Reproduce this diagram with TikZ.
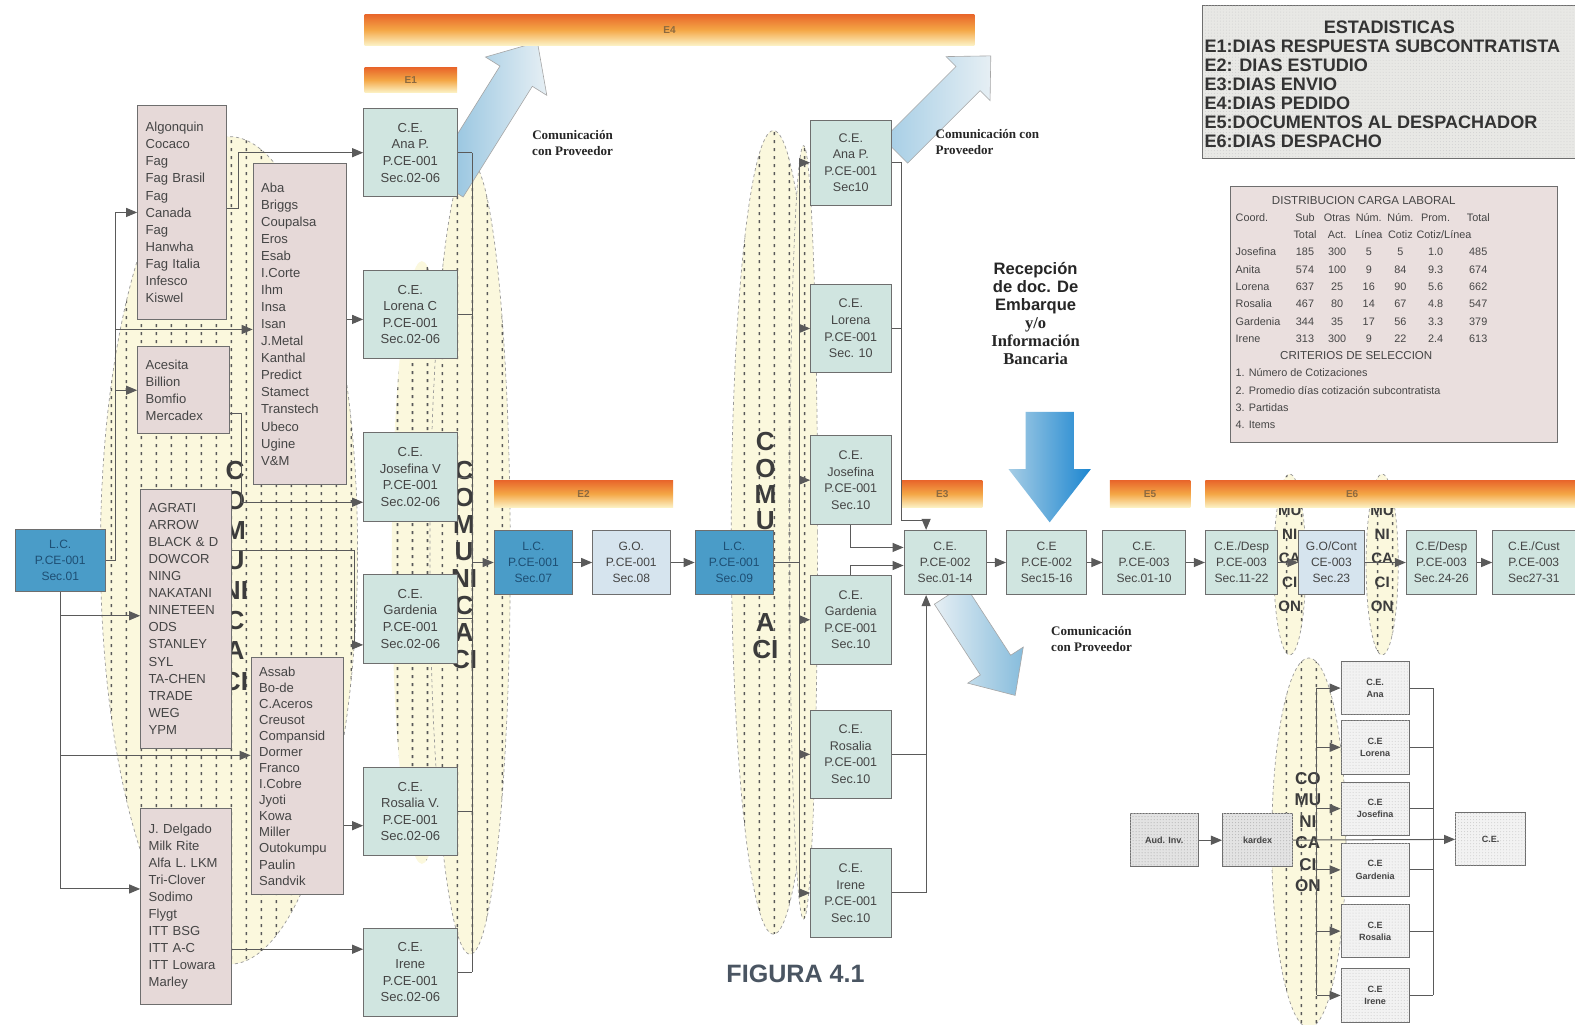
\documentclass[tikz,border=0pt]{standalone}
\usepackage{fontspec}
\setmainfont{Liberation Sans}
\newfontfamily\serifbf{Liberation Serif}
\usetikzlibrary{arrows.meta,patterns}

\definecolor{cefill}{HTML}{D0E5E0}
\definecolor{listfill}{HTML}{E6D9D8}
\definecolor{lcblue}{HTML}{4A9CC8}
\definecolor{lctext}{HTML}{1E4F74}
\definecolor{gofill}{HTML}{D6E4EE}
\definecolor{boxline}{HTML}{6E6E6E}
\definecolor{txt}{HTML}{454545}
\definecolor{lineC}{HTML}{5A5A5A}
\definecolor{ellfill}{HTML}{FBF8DD}
\definecolor{bnTop}{HTML}{E8652A}
\definecolor{bnMid}{HTML}{F4A645}
\definecolor{bnBot}{HTML}{FCF1C4}
\definecolor{bnText}{HTML}{8C6A40}
\definecolor{letC}{HTML}{3C3C3C}
\definecolor{arLight}{HTML}{E6EFF4}
\definecolor{arBlue}{HTML}{86BCDC}
\definecolor{recTop}{HTML}{A6CDE5}
\definecolor{recBot}{HTML}{1C86D0}
\definecolor{statfill}{HTML}{E8E8E5}
\definecolor{distfill}{HTML}{EADFDE}
\definecolor{figC}{HTML}{4A5562}

\pgfdeclarepatternformonly{vdash}{\pgfqpoint{0pt}{0pt}}{\pgfqpoint{15pt}{8pt}}{\pgfqpoint{15pt}{8pt}}{\pgfpathrectangle{\pgfqpoint{6pt}{2pt}}{\pgfqpoint{1.6pt}{3.4pt}}\pgfusepath{fill}}

\pgfdeclarelayer{bgb}
\pgfdeclarelayer{bg}
\pgfsetlayers{bgb,bg,main}

\newcommand\dcrow[7]{\makebox[53pt][l]{#1}\makebox[32pt][c]{#2}\makebox[32pt][c]{#3}\makebox[31pt][c]{#4}\makebox[32pt][c]{#5}\makebox[38pt][c]{#6}\makebox[47pt][c]{#7}}

\tikzset{
  box/.style={draw=boxline, line width=0.9pt, inner sep=2pt, align=center, text=txt},
  cebox/.style={box, fill=cefill, minimum width=93pt, minimum height=88pt, font=\fontsize{13}{16.5}\selectfont},
  cetwo/.style={box, fill=cefill, minimum width=80pt, minimum height=88pt, font=\fontsize{12.5}{16.5}\selectfont},
  chain/.style={box, fill=cefill, minimum height=64pt, font=\fontsize{12}{16}\selectfont},
  lcbox/.style={chain, fill=lcblue, text=lctext},
  gobox/.style={chain, fill=gofill},
  listbox/.style={draw=boxline, line width=0.9pt, fill=listfill, align=left, inner xsep=8pt, inner ysep=2pt, text=txt, font=\fontsize{13}{17}\selectfont},
  banner/.style={top color=bnTop, bottom color=bnBot, middle color=bnMid, inner sep=0pt, font=\fontsize{10}{10}\selectfont\bfseries, text=bnText},
  conn/.style={draw=lineC, line width=1pt},
  arr/.style={conn, -{Triangle[length=11pt,width=9pt]}},
  ellipsefill/.style={draw=gray!80, dashed, line width=0.7pt, fill=ellfill, postaction={pattern=vdash, pattern color=gray!70!black}},
  ellipseplain/.style={fill=ellfill, postaction={pattern=vdash, pattern color=gray!70!black}},
  bigletter/.style={font=\fontsize{26}{26}\selectfont\bfseries, text=letC, inner sep=0pt},
  midletter/.style={font=\fontsize{15}{15}\selectfont\bfseries, text=letC, inner sep=0pt},
  brbox/.style={draw=boxline, line width=0.8pt, fill=gray!10, postaction={pattern=dots, pattern color=gray!40}, minimum width=68pt, minimum height=53pt, align=center, font=\fontsize{9}{12}\selectfont\bfseries, text=txt},
  comtext/.style={font=\serifbf\bfseries\fontsize{13}{16}\selectfont, text=black!85},
}

\begin{document}
\begin{tikzpicture}[x=1pt,y=-1pt]
\path[use as bounding box] (0,0) rectangle (1568,1020);

% ---------------- main layer: nodes ----------------
\node[lcbox, minimum width=90pt, minimum height=62pt] (lc0) at (60,558) {L.C.\\P.CE-001\\Sec.01};

\node[listbox, text width=72pt, minimum height=213pt] (lA) at (181,211.5) {Algonquin\\Cocaco\\Fag\\Fag Brasil\\Fag\\Canada\\Fag\\Hanwha\\Fag Italia\\Infesco\\Kiswel};
\node[listbox, text width=75pt, minimum height=87pt] (lB) at (182.5,388.5) {Acesita\\Billion\\Bomfio\\Mercadex};
\node[listbox, text width=74pt, minimum height=258pt] (lC) at (185,616) {AGRATI\\ARROW\\BLACK \& D\\DOWCOR\\NING\\NAKATANI\\NINETEEN\\ODS\\STANLEY\\SYL\\TA-CHEN\\TRADE\\WEG\\YPM};
\node[listbox, text width=74pt, minimum height=195pt] (lD) at (185,902.5) {J. Delgado\\Milk Rite\\Alfa L. LKM\\Tri-Clover\\Sodimo\\Flygt\\ITT BSG\\ITT A-C\\ITT Lowara\\Marley};
\node[listbox, text width=77pt, minimum height=320pt] (lE) at (298.5,322.5) {Aba\\Briggs\\Coupalsa\\Eros\\Esab\\I.Corte\\Ihm\\Insa\\Isan\\J.Metal\\Kanthal\\Predict\\Stamect\\Transtech\\Ubeco\\Ugine\\V\&M};
\node[listbox, text width=76pt, minimum height=235pt, font=\fontsize{13}{16}\selectfont] (lF) at (296,772.5) {Assab\\Bo-de\\C.Aceros\\Creusot\\Compansid\\Dormer\\Franco\\I.Cobre\\Jyoti\\Kowa\\Miller\\Outokumpu\\Paulin\\Sandvik};

\node[cebox] (ce1a) at (408.5,152) {C.E.\\Ana P.\\P.CE-001\\Sec.02-06};
\node[cebox] (ce1b) at (408.5,313) {C.E.\\Lorena C\\P.CE-001\\Sec.02-06};
\node[cebox] (ce1c) at (408.5,475) {C.E.\\Josefina V\\P.CE-001\\Sec.02-06};
\node[cebox] (ce1d) at (408.5,616) {C.E.\\Gardenia\\P.CE-001\\Sec.02-06};
\node[cebox] (ce1e) at (408.5,808) {C.E.\\Rosalia V.\\P.CE-001\\Sec.02-06};
\node[cebox] (ce1f) at (408.5,968) {C.E.\\Irene\\P.CE-001\\Sec.02-06};

\node[lcbox, minimum width=78pt] (lc1) at (531,560) {L.C.\\P.CE-001\\Sec.07};
\node[gobox, minimum width=77pt] (go1) at (628.5,560) {G.O.\\P.CE-001\\Sec.08};
\node[lcbox, minimum width=78pt] (lc2) at (731,560) {L.C.\\P.CE-001\\Sec.09};

\node[cetwo, minimum height=85pt] (c2a) at (847,162) {C.E.\\Ana P.\\P.CE-001\\Sec10};
\node[cetwo] (c2b) at (847,327) {C.E.\\Lorena\\P.CE-001\\Sec. 10};
\node[cetwo] (c2c) at (847,478) {C.E.\\Josefina\\P.CE-001\\Sec.10};
\node[cetwo] (c2d) at (847,617) {C.E.\\Gardenia\\P.CE-001\\Sec.10};
\node[cetwo] (c2e) at (847,751) {C.E.\\Rosalia\\P.CE-001\\Sec.10};
\node[cetwo] (c2f) at (847,889) {C.E.\\Irene\\P.CE-001\\Sec.10};

\node[chain, minimum width=82pt] (ce2) at (941,560) {C.E.\\P.CE-002\\Sec.01-14};
\node[chain, minimum width=80pt] (ce3) at (1042,560) {C.E\\P.CE-002\\Sec15-16};
\node[chain, minimum width=82pt] (ce4) at (1139,560) {C.E.\\P.CE-003\\Sec.01-10};
\node[chain, minimum width=72pt] (ce5) at (1236,560) {C.E./Desp\\P.CE-003\\Sec.11-22};
\node[gobox, minimum width=65pt] (go2) at (1325.5,560) {G.O/Cont\\CE-003\\Sec.23};
\node[chain, minimum width=70pt] (ce6) at (1435,560) {C.E/Desp\\P.CE-003\\Sec.24-26};
\node[chain, minimum width=82pt] (ce7) at (1527,560) {C.E./Cust\\P.CE-003\\Sec27-31};

\node[banner, minimum width=607pt, minimum height=31pt] (bE4) at (666.5,29.5) {E4};
\node[banner, minimum width=92pt, minimum height=25pt] (bE1) at (409,79.5) {E1};
\node[banner, minimum width=178pt, minimum height=27pt] (bE2) at (581,491.5) {E2};
\node[banner, minimum width=80pt, minimum height=27pt] (bE3) at (938,491.5) {E3};
\node[banner, minimum width=80pt, minimum height=27pt] (bE5) at (1145,491.5) {E5};
\node[banner, minimum width=368pt, minimum height=27pt] (bE6) at (1384,491.5) {\makebox[88pt][l]{E6}};

\node[comtext, align=center] (tA) at (570,142) {Comunicación\\con Proveedor};
\node[comtext, align=left, anchor=west] (tB) at (928,141) {Comunicación con\\Proveedor};
\node[comtext, align=left, anchor=west] (tC) at (1043,636) {Comunicación\\con Proveedor};
\node[align=center, text=black!85, inner sep=0pt, font=\fontsize{16.5}{18}\selectfont\bfseries] (rec) at (1031,312) {Recepción\\de doc. De\\Embarque\\{\serifbf y/o}\\{\serifbf Información}\\{\serifbf Bancaria}};
\node[font=\fontsize{25}{25}\selectfont\bfseries, text=figC] (fig) at (792,970) {FIGURA 4.1};

\node[draw=boxline, line width=0.8pt, fill=statfill, postaction={pattern=dots, pattern color=gray!35}, minimum width=371pt, minimum height=152pt, anchor=north west, inner sep=0pt] (stats) at (1197,5) {};
\node[anchor=north west, inner sep=0pt, align=left, font=\fontsize{18}{18.8}\selectfont\bfseries, text=black!80] (stt) at (1199,21) {\makebox[368pt][c]{ESTADISTICAS}\\E1:DIAS RESPUESTA SUBCONTRATISTA\\E2: DIAS ESTUDIO\\E3:DIAS ENVIO\\E4:DIAS PEDIDO\\E5:DOCUMENTOS AL DESPACHADOR\\E6:DIAS DESPACHO};

\node[draw=boxline, line width=0.8pt, fill=distfill, minimum width=325pt, minimum height=255pt, anchor=north west, inner sep=0pt] (dist) at (1225,185) {};
\node[anchor=north west, inner sep=0pt, align=left, font=\fontsize{10.8}{17.2}\selectfont, text=txt] (dtx) at (1230,195) {\makebox[255pt][c]{\fontsize{11.5}{17.2}\selectfont DISTRIBUCION CARGA LABORAL}\\
\dcrow{Coord.}{Sub}{Otras}{Núm.}{Núm.}{Prom.}{Total}\\
\dcrow{}{Total}{Act.}{Línea}{Cotiz}{\makebox[38pt][l]{Cotiz/Línea}}{}\\
\dcrow{Josefina}{185}{300}{5}{5}{1.0}{485}\\
\dcrow{Anita}{574}{100}{9}{84}{9.3}{674}\\
\dcrow{Lorena}{637}{25}{16}{90}{5.6}{662}\\
\dcrow{Rosalia}{467}{80}{14}{67}{4.8}{547}\\
\dcrow{Gardenia}{344}{35}{17}{56}{3.3}{379}\\
\dcrow{Irene}{313}{300}{9}{22}{2.4}{613}\\
\makebox[240pt][c]{\fontsize{11.5}{17.2}\selectfont CRITERIOS DE SELECCION}\\
1. Número de Cotizaciones\\
2. Promedio días cotización subcontratista\\
3. Partidas\\
4. Items};

\node[brbox, fill=gray!22, postaction={pattern=dots, pattern color=gray!55}] (aud) at (1159,836.5) {Aud. Inv.};
\node[brbox, fill=gray!22, minimum width=70pt, postaction={pattern=dots, pattern color=gray!55}] (kdx) at (1252,836.5) {kardex};
\node[brbox] (br1) at (1369,685) {C.E.\\Ana};
\node[brbox] (br2) at (1369,744) {C.E\\Lorena};
\node[brbox] (br3) at (1369,805) {C.E\\Josefina};
\node[brbox] (br4) at (1369,866) {C.E\\Gardenia};
\node[brbox] (br5) at (1369,927) {C.E\\Rosalia};
\node[brbox] (br6) at (1369,991) {C.E\\Irene};
\node[brbox, minimum width=70pt] (bce) at (1484,835.5) {C.E.};

% ---------------- bottom layer ----------------
\begin{pgfonlayer}{bgb}
\fill[white] (0,0) rectangle (1568,1020);
\path[ellipsefill] (228,548) ellipse [x radius=128pt, y radius=412pt];
\path[ellipseplain] (420,560) ellipse [x radius=30pt, y radius=300pt];
\path[ellipsefill] (468,555) ellipse [x radius=40pt, y radius=395pt];
\path[ellipsefill] (770,530) ellipse [x radius=42pt, y radius=400pt];
\path[ellipsefill] (800,530) ellipse [x radius=14pt, y radius=385pt];
\path[ellipsefill] (1284,562) ellipse [x radius=16pt, y radius=90pt];
\path[ellipsefill] (1376,562) ellipse [x radius=16pt, y radius=90pt];
\path[ellipsefill] (1303,839) ellipse [x radius=37pt, y radius=184pt];
\foreach \t [count=\i] in {C,O,M,U,NI,C,A,CI}
  \node[bigletter] (ka\i) at (234,438+30*\i) {\t};
\foreach \t [count=\i] in {C,O,M,U,NI,C,A,CI}
  \node[bigletter] (kb\i) at (462,441+27*\i) {\t};
\foreach \t/\yy [count=\i] in {C/440,O/466,M/492,U/518,A/620,CI/647}
  \node[bigletter] (kc\i) at (762,\yy) {\t};
\foreach \t [count=\i] in {MU,NI,CA,CI,ON}
  \node[midletter] (kd\i) at (1284,484+24*\i) {\t};
\foreach \t [count=\i] in {MU,NI,CA,CI,ON}
  \node[midletter] (ke\i) at (1376,484+24*\i) {\t};
\foreach \t [count=\i] in {CO,MU,NI,CA,CI,ON}
  \node[midletter, font=\fontsize{17}{17}\selectfont\bfseries] (kf\i) at (1302,753.5+21.4*\i) {\t};
\end{pgfonlayer}

% ---------------- connector layer ----------------
\begin{pgfonlayer}{bg}
\begin{scope}[shift={(490,114)}, rotate=58]
  \path[draw=gray!70, line width=0.6pt, left color=arBlue, right color=arLight]
    (-85,-19) -- (45,-19) -- (45,-36) -- (85,0) -- (45,36) -- (45,19) -- (-85,19) -- cycle;
\end{scope}
\begin{scope}[shift={(939,103)}, rotate=45]
  \path[draw=gray!70, line width=0.6pt, left color=arBlue!75, right color=arLight]
    (-67,-17) -- (35,-17) -- (35,-31) -- (67,0) -- (35,31) -- (35,17) -- (-67,17) -- cycle;
\end{scope}
\begin{scope}[shift={(978,642)}, rotate=-57]
  \path[draw=gray!70, line width=0.6pt, left color=arLight, right color=arBlue]
    (-60,-18) -- (24,-18) -- (24,-33) -- (60,0) -- (24,33) -- (24,18) -- (-60,18) -- cycle;
\end{scope}
\begin{scope}[shift={(1045,465)}, rotate=-90]
  \path[left color=recTop, right color=recBot]
    (-55,-24) -- (2,-24) -- (2,-41) -- (55,0) -- (2,41) -- (2,24) -- (-55,24) -- cycle;
\end{scope}

\draw[arr] (lc0.east) -- (lc0.east -| 115,0) |- (lA.west);
\draw[arr] (lc0.east -| 115,0) |- (lE.west |- 0,328);
\draw[arr] (lB.west -| 115,0) -- (lB.west);
\draw[conn] (lc0.south) -- (lc0.south |- 0,885);
\draw[arr] (lc0.south |- 0,613) -- (lC.west |- 0,613);
\draw[arr] (lc0.south |- 0,752) -- (lF.west |- 0,752);
\draw[arr] (lc0.south |- 0,885) -- (lD.west |- 0,885);

\draw[arr] (lA.east |- 0,208) -- ++(12,0) |- (ce1a.west);
\draw[arr] (lE.east |- 0,318) -- (ce1b.west |- 0,318);
\draw[arr] (lB.east |- 0,412) -- ++(12,0) |- (ce1c.west |- 0,500);
\draw[arr] (lC.east |- 0,548) -- ++(122,0) |- (ce1d.west |- 0,642);
\draw[arr] (lF.east |- 0,822) -- (ce1e.west |- 0,822);
\draw[arr] (lD.east |- 0,945) -- (ce1f.west |- 0,945);

\foreach \n in {ce1a,ce1b,ce1c,ce1d,ce1e,ce1f}
  \draw[conn] (\n.east) -- (\n.east -| 470,0);
\draw[conn] (ce1a.east -| 470,0) -- (ce1f.east -| 470,0);
\draw[arr] (lc1.west -| 470,0) -- (lc1.west);

\draw[arr] (lc1) -- (go1);
\draw[arr] (go1) -- (lc2);
\draw[conn] (lc2.east) -- (lc2.east -| 796,0);
\draw[conn] (c2a.west -| 796,0) -- (c2f.west -| 796,0);
\foreach \n in {c2a,c2b,c2c,c2d,c2e,c2f}
  \draw[arr] (\n.west -| 796,0) -- (\n.west);

\draw[arr] (c2a.east) -- (c2a.east -| 897,0) -- (897,518) -| ([xshift=-19pt]ce2.north);
\draw[conn] (c2b.east) -- (c2b.east -| 897,0);
\draw[arr] (c2c.south) |- (ce2.west |- 0,545);
\draw[arr] (c2d.north) |- (ce2.west |- 0,563);
\draw[conn] (c2e.east) -- (c2e.east -| 922,0);
\draw[arr] (c2f.east) -| ([xshift=-19pt]ce2.south);

\draw[arr] (ce2) -- (ce3);
\draw[arr] (ce3) -- (ce4);
\draw[arr] (ce4) -- (ce5);
\draw[arr] (ce5) -- (go2);
\draw[arr] (go2) -- (ce6);
\draw[arr] (ce6) -- (ce7);

\draw[arr] (aud) -- (kdx);
\draw[arr] (kdx) -- (bce);
\draw[conn] (br1.west -| 1311,0) -- (br6.west -| 1311,0);
\foreach \n in {br1,br2,br3,br4,br5,br6}
  \draw[arr] (\n.west -| 1311,0) -- (\n.west);
\draw[conn] (br1.east -| 1427,0) -- (br6.east -| 1427,0);
\foreach \n in {br1,br2,br3,br4,br5,br6}
  \draw[conn] (\n.east) -- (\n.east -| 1427,0);
\end{pgfonlayer}
\end{tikzpicture}
\end{document}
